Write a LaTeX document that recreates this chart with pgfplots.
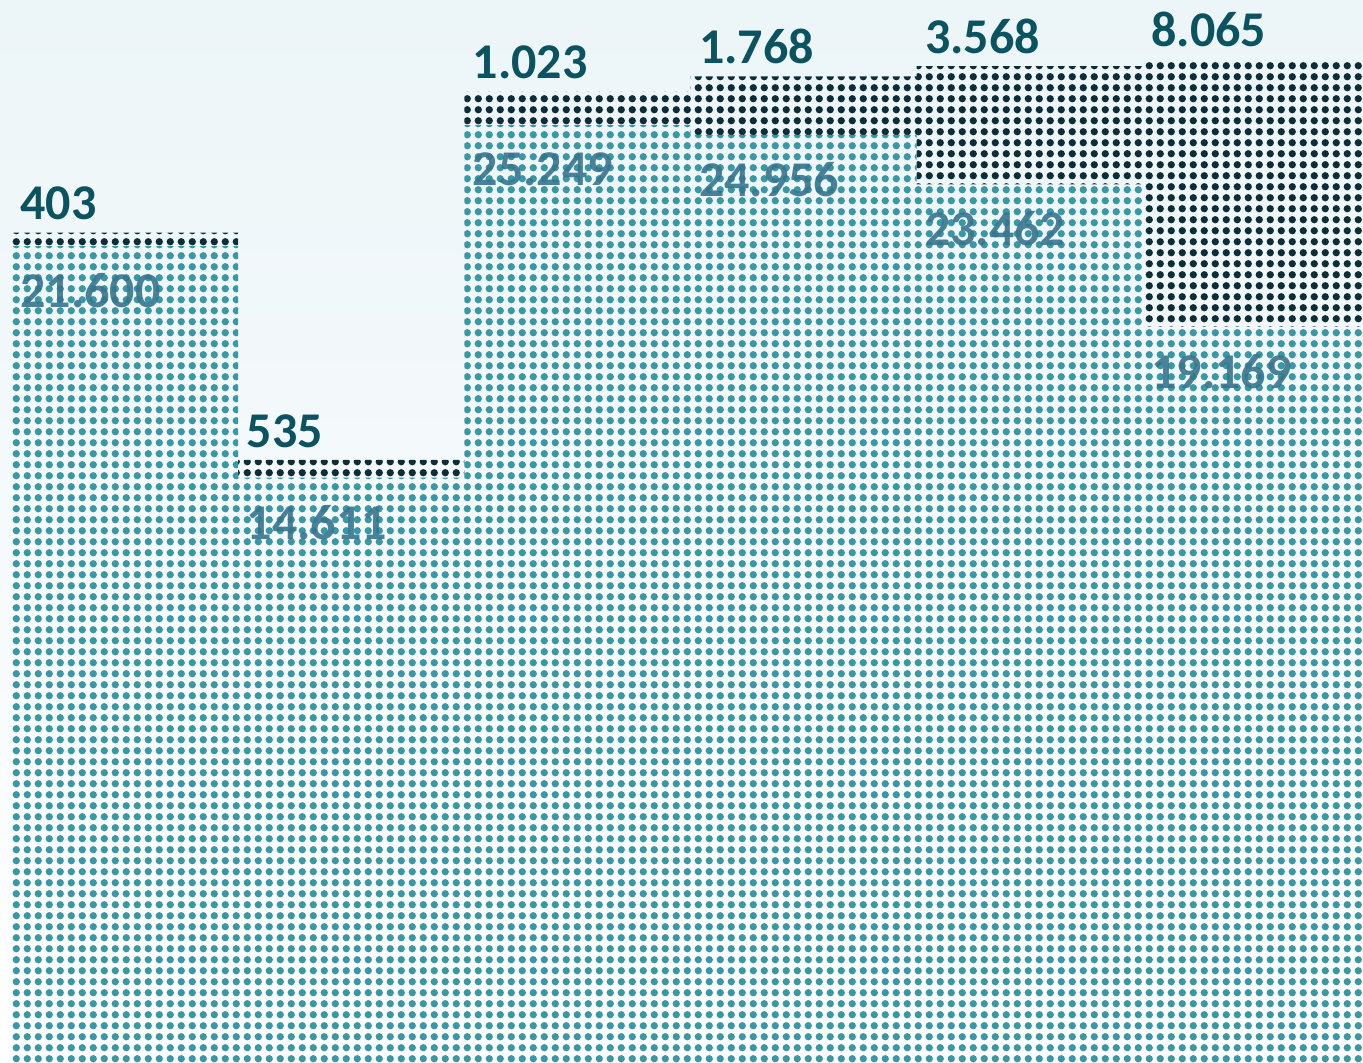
\documentclass[border=0pt]{standalone}
\usepackage{pgfplots}
\usepackage{pgfplotstable}
\pgfplotsset{compat=1.18}
\usepackage{fontspec}
\setmainfont{Carlito}
\usetikzlibrary{patterns}
\pgfdeclarepatternformonly{bigdots}{\pgfpointorigin}{\pgfpoint{5.625pt}{5.625pt}}{\pgfpoint{5.625pt}{5.625pt}}{%
  \pgfpathcircle{\pgfpoint{2.8125pt}{2.8125pt}}{1.95pt}\pgfusepath{fill}}
\definecolor{tealdot}{HTML}{3A97A6}
\definecolor{darkdot}{HTML}{0E2E37}
\definecolor{darklab}{HTML}{0B5360}
\definecolor{teallab}{HTML}{37758E}
\definecolor{bgtop}{HTML}{ECF5F8}
\definecolor{bgmid}{HTML}{F9FCFD}
\pgfplotstableread{
x teal dark
0 21600 403
1 14611 535
2 25249 1023
3 24956 1768
4 23462 3568
5 19169 8065
}\datatable
\begin{document}
\begin{tikzpicture}
\begin{axis}[
  scale only axis,
  width=681.5pt, height=531.5pt,
  ybar stacked,
  bar width=1,
  xmin=-0.553, xmax=5.473,
  ymin=0, ymax=32086,
  enlargelimits=false,
  xtick=\empty, ytick=\empty,
  axis line style={draw=none},
  axis background/.style={top color=bgtop, middle color=bgmid, bottom color=white},
  /pgf/number format/.cd, fixed, precision=0, 1000 sep={.}, assume math mode=true,
]
\addplot[draw=none, pattern=bigdots, pattern color=tealdot,
  y filter/.expression={y+3058},
  point meta=explicit,
  visualization depends on={\thisrow{teal}/1000 \as \myraw},
  nodes near coords,
  every node near coord/.style={anchor=north west, inner sep=0pt, xshift=-52.5pt,
    yshift={(\myraw+3.058)*8.2825pt-13.5pt}, text opacity=0.9,
    font=\fontsize{25}{30}\selectfont\bfseries, text=teallab}]
  table[x=x, y=teal, meta=teal] {\datatable};
\addplot[draw=none, pattern=bigdots, pattern color=darkdot,
  point meta=explicit,
  visualization depends on={\thisrow{dark}/1000 \as \myraw},
  nodes near coords,
  every node near coord/.style={anchor=south west, inner sep=0pt, xshift=-52.5pt,
    yshift={\myraw*8.2825pt+6pt},
    font=\fontsize{25}{30}\selectfont\bfseries, text=darklab}]
  table[x=x, y=dark, meta=dark] {\datatable};
\end{axis}
\end{tikzpicture}
\end{document}
